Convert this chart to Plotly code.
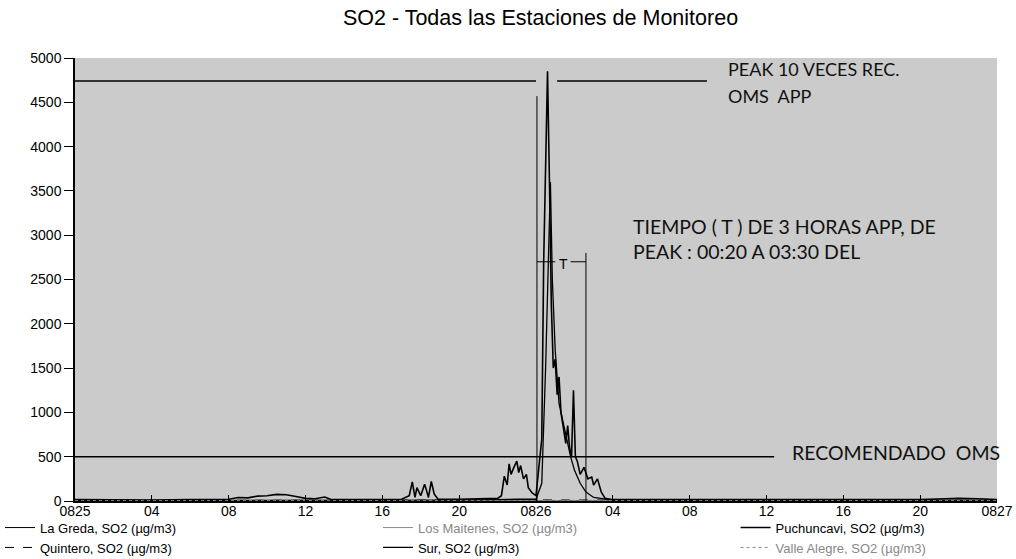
import plotly.graph_objects as go

# ---------------- data (hours since 25-Aug 00:00) ----------------
tick_hours = [0, 4, 8, 12, 16, 20, 24, 28, 32, 36, 40, 44, 48]
tick_labels = ["0825", "04", "08", "12", "16", "20", "0826", "04", "08", "12", "16", "20", "0827"]
y_ticks = [0, 500, 1000, 1500, 2000, 2500, 3000, 3500, 4000, 4500, 5000]

name_greda = "La Greda, SO2 (µg/m3)"
name_quintero = "Quintero, SO2 (µg/m3)"
name_maitenes = "<span style='color:#888'>Los Maitenes, SO2 (µg/m3)</span>"
name_sur = "Sur, SO2 (µg/m3)"
name_puch = "Puchuncavi, SO2 (µg/m3)"
name_valle = "<span style='color:#888'>Valle Alegre, SO2 (µg/m3)</span>"

# Puchuncavi (main peak series)
puch_h = [0, 2, 4, 6, 8, 8.5, 9, 9.5, 10, 10.5, 11, 11.5, 12, 12.5, 13, 13.3, 14, 16, 17, 17.4,
          17.56, 17.7, 17.8, 18.0, 18.2, 18.3, 18.4, 18.55, 18.7, 18.9, 20, 22, 22.2, 22.35, 22.5,
          22.6, 22.7, 22.85, 23.0, 23.1, 23.2, 23.35, 23.5, 23.6, 23.8, 24.0, 24.1, 24.3, 24.4, 24.5,
          24.6, 24.7, 24.8, 24.9, 25.0, 25.1, 25.2, 25.3, 25.45, 25.55, 25.65, 25.75, 25.85, 25.95,
          26.05, 26.15, 26.3, 26.5, 26.7, 26.9, 27.0, 27.2, 27.4, 27.6, 28, 32, 36, 40, 44, 45.3,
          46, 47, 47.6, 48]
puch_v = [15, 10, 12, 15, 20, 40, 35, 55, 60, 75, 70, 50, 30, 25, 45, 20, 15, 15, 20, 60,
          215, 40, 150, 60, 190, 120, 40, 220, 80, 20, 20, 30, 60, 280, 180,
          420, 300, 380, 450, 320, 400, 250, 300, 150, 90, 60, 300, 700, 2700, 4000,
          4850, 3600, 2200, 1500, 1600, 1200, 1400, 1000, 800, 650, 850, 600, 500, 1250,
          500, 450, 300, 380, 250, 270, 180, 250, 100, 30, 15, 15, 15, 15, 15, 25,
          30, 25, 20, 15]

# Sur (secondary peak)
sur_h = [0, 8, 12, 16, 20, 23, 24.0, 24.3, 24.5, 24.75, 24.85, 25.0, 25.2, 25.4, 25.6, 25.8,
         26.0, 26.3, 26.6, 27.0, 28, 36, 48]
sur_v = [5, 8, 10, 8, 10, 20, 20, 200, 1500, 3600, 2500, 1700, 1100, 900, 700, 500,
         350, 200, 100, 40, 10, 8, 8]

low_h = [0, 12, 24, 36, 48]
greda_v = [5, 8, 10, 6, 5]
maitenes_v = [3, 4, 6, 4, 3]
quintero_v = [6, 10, 12, 8, 6]
valle_v = [4, 5, 8, 5, 4]

# reference / annotation levels
oms_level = 500
oms_end_h = 36.4
peak_level = 4740
peak_seg1 = [0, 24.0]
peak_seg2 = [25.1, 32.9]
t_start_h, t_end_h = 24.05, 26.6
t_start_top, t_end_top = 4570, 2800
t_level = 2700

fig = go.Figure()

traces = [
    (name_greda, low_h, greda_v, dict(color="black", width=1), "legend"),
    (name_quintero, low_h, quintero_v, dict(color="black", width=1, dash="dash"), "legend"),
    (name_maitenes, low_h, maitenes_v, dict(color="#8a8a8a", width=1), "legend2"),
    (name_sur, sur_h, sur_v, dict(color="black", width=1.3), "legend2"),
    (name_puch, puch_h, puch_v, dict(color="black", width=1.6), "legend3"),
    (name_valle, low_h, valle_v, dict(color="#8a8a8a", width=1, dash="dot"), "legend3"),
]
for name, xs, ys, ln, lg in traces:
    fig.add_trace(go.Scatter(x=xs, y=ys, mode="lines", name=name, line=ln, legend=lg))

line_style = dict(color="black", width=1.5)
thin = dict(color="black", width=1)
shapes = [
    dict(type="line", x0=0, x1=oms_end_h, y0=oms_level, y1=oms_level, line=line_style),
    dict(type="line", x0=peak_seg1[0], x1=peak_seg1[1], y0=peak_level, y1=peak_level, line=line_style),
    dict(type="line", x0=peak_seg2[0], x1=peak_seg2[1], y0=peak_level, y1=peak_level, line=line_style),
    dict(type="line", x0=t_start_h, x1=t_start_h, y0=0, y1=t_start_top, line=thin),
    dict(type="line", x0=t_end_h, x1=t_end_h, y0=0, y1=t_end_top, line=thin),
    dict(type="line", x0=t_start_h, x1=25.0, y0=t_level, y1=t_level, line=thin),
    dict(type="line", x0=25.8, x1=t_end_h, y0=t_level, y1=t_level, line=thin),
]
for s in shapes:
    s.update(xref="x", yref="y", layer="above")
fig.update_layout(shapes=shapes)

afont = dict(family="Lato, Carlito, sans-serif", size=18, color="#111")
annots = [
    (33.9, 4876, "PEAK 10 VECES REC.", 18),
    (33.9, 4570, "OMS  APP", 18),
    (28.95, 3100, "TIEMPO ( T ) DE 3 HORAS APP, DE", 19.5),
    (28.95, 2817, "PEAK : 00:20 A 03:30 DEL", 19.5),
    (37.2, 543, "RECOMENDADO  OMS", 19.5),
]
for x, y, t, sz in annots:
    fig.add_annotation(x=x, y=y, text=t, showarrow=False, xanchor="left", yanchor="middle",
                       font=dict(afont, size=sz))
fig.add_annotation(x=25.45, y=2670, text="T", showarrow=False,
                   font=dict(family="Liberation Sans", size=14, color="black"))

leg_common = dict(orientation="v", xref="container", yref="container", y=0.083,
                  xanchor="left", yanchor="top", font=dict(size=13), bgcolor="rgba(0,0,0,0)",
                  itemwidth=30, tracegroupgap=0)

fig.update_layout(
    width=1016, height=559,
    margin=dict(l=75, r=19, t=58, b=58, autoexpand=False),
    paper_bgcolor="white",
    plot_bgcolor="#cbcbcb",
    font=dict(family="Liberation Sans, Arial, sans-serif", size=14, color="black"),
    title=dict(text="SO2 - Todas las Estaciones de Monitoreo", x=0.532, xanchor="center",
               y=0.968, yanchor="middle", font=dict(size=21.5)),
    showlegend=True,
    legend=dict(leg_common, x=0.0),
    legend2=dict(leg_common, x=0.372),
    legend3=dict(leg_common, x=0.724),
    xaxis=dict(range=[0, 48], tickvals=tick_hours, ticktext=tick_labels, showgrid=False,
               zeroline=False, showline=True, linecolor="black", linewidth=1.5,
               ticks="inside", ticklen=6, tickcolor="black", tickangle=0,
               ticklabelstandoff=-4),
    yaxis=dict(range=[0, 5000], tickvals=y_ticks, showgrid=False, zeroline=False,
               showline=True, linecolor="black", linewidth=1.5, ticks="outside",
               ticklen=9, tickcolor="black"),
)

fig.write_html("out.html", config={"displayModeBar": False},
               post_script="document.body.style.margin='0';document.body.style.overflow='hidden';")
